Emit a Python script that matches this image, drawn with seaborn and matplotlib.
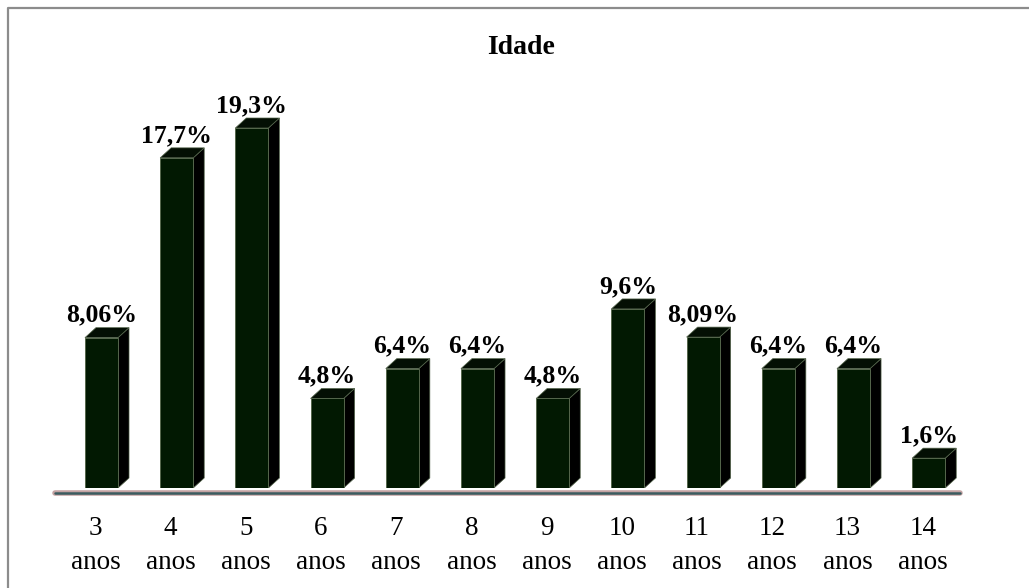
import matplotlib
matplotlib.use("Agg")
import matplotlib.pyplot as plt
import matplotlib.transforms as mtransforms
from matplotlib.patches import Polygon
from matplotlib.lines import Line2D
import seaborn as sns
import pandas as pd

# Age distribution
categories = ["3\nanos", "4\nanos", "5\nanos", "6\nanos", "7\nanos", "8\nanos",
              "9\nanos", "10\nanos", "11\nanos", "12\nanos", "13\nanos", "14\nanos"]
values = [8.06, 17.7, 19.3, 4.8, 6.4, 6.4, 4.8, 9.6, 8.09, 6.4, 6.4, 1.6]
labels = ["8,06%", "17,7%", "19,3%", "4,8%", "6,4%", "6,4%",
          "4,8%", "9,6%", "8,09%", "6,4%", "6,4%", "1,6%"]
title = "Idade"

df = pd.DataFrame({"idade": categories, "pct": values})

sns.set_theme(style="white")
plt.rcParams["font.family"] = ["Liberation Serif", "DejaVu Serif"]

W, H = 1029, 588
fig = plt.figure(figsize=(W / 100, H / 100), dpi=100)
ax = fig.add_axes([55 / W, (H - 488) / H, 905 / W, 468 / H])

FRONT = "#021902"
TOP = "#040f04"
SIDE = "#000000"
EDGE = "#55664c"

sns.barplot(data=df, x="idade", y="pct", color=FRONT, width=0.44,
            saturation=1, ax=ax, edgecolor=EDGE, linewidth=0.7, zorder=3)

ax.set_xlim(-0.618, 11.416)
ax.set_ylim(0, 25.09)

# data units per pixel, used for the 3D depth of each bar
bbox = ax.get_window_extent()
dx = (ax.get_xlim()[1] - ax.get_xlim()[0]) / bbox.width
dy = (ax.get_ylim()[1] - ax.get_ylim()[0]) / bbox.height
depth_x, depth_y = 11 * dx, 10 * dy

for patch, lab in zip(ax.patches, labels):
    x0 = patch.get_x()
    w = patch.get_width()
    h = patch.get_height()
    x1 = x0 + w
    side = Polygon([(x1, 0), (x1, h), (x1 + depth_x, h + depth_y),
                    (x1 + depth_x, depth_y)], closed=True,
                   facecolor=SIDE, edgecolor=EDGE, linewidth=0.5, zorder=2)
    top = Polygon([(x0, h), (x1, h), (x1 + depth_x, h + depth_y),
                   (x0 + depth_x, h + depth_y)], closed=True,
                  facecolor=TOP, edgecolor=EDGE, linewidth=0.5, zorder=2)
    ax.add_patch(side)
    ax.add_patch(top)
    ax.annotate(lab, (x0 + w / 2, h), xytext=(0, 11.5),
                textcoords="offset points", ha="center", va="baseline",
                fontsize=18.5, fontweight="bold", color="black")

# baseline of the category axis
ax.axhline(-5 * dy, color="#c4a3a3", linewidth=4.0, clip_on=False, zorder=1)
ax.axhline(-5 * dy, color="#3b5c60", linewidth=1.8, clip_on=False, zorder=1)

for s in ax.spines.values():
    s.set_visible(False)
ax.set_yticks([])
ax.set_xlabel("")
ax.set_ylabel("")
ax.tick_params(axis="x", length=0, pad=20, labelsize=19.5, labelcolor="black")
shift = mtransforms.ScaledTranslation(-6 / 100, 0, fig.dpi_scale_trans)
for t in ax.get_xticklabels():
    t.set_linespacing(1.5)
    t.set_transform(t.get_transform() + shift)

fig.text(521 / W, 1 - 47 / H, title, ha="center", va="center",
         fontsize=20, fontweight="bold", color="black")

# outer chart frame (top and left edges)
fig.add_artist(Line2D([8 / W, 8 / W, 1.0], [0.0, 1 - 8 / H, 1 - 8 / H],
                      transform=fig.transFigure, color="#8c8c8c", linewidth=1.6))

fig.savefig("out.png", dpi=100)
